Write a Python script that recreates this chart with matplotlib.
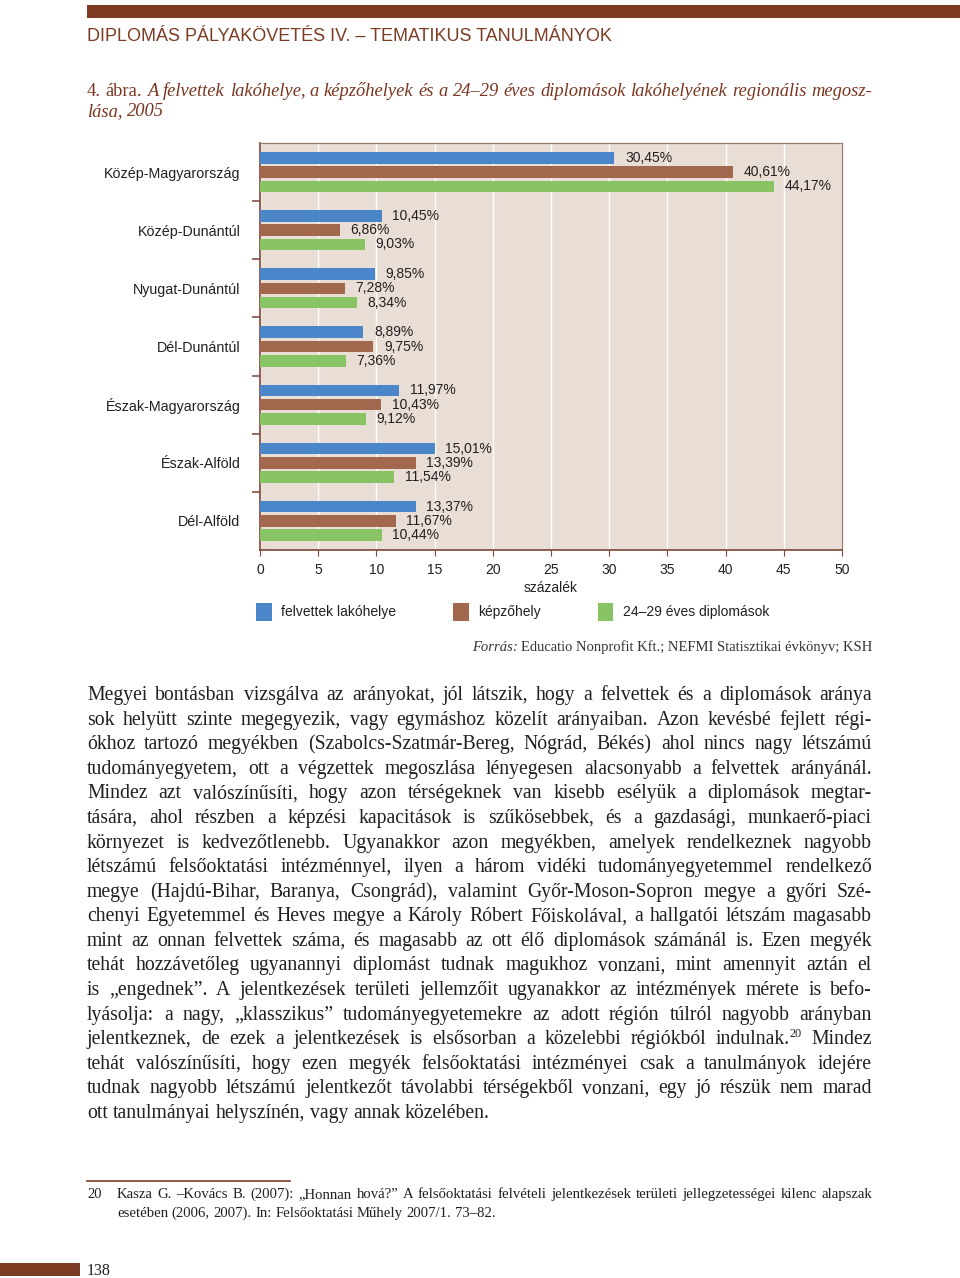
import matplotlib
matplotlib.use('Agg')
import matplotlib.pyplot as plt
from matplotlib.patches import Rectangle
from matplotlib.lines import Line2D

W, H = 960, 1278

regions = ['Közép-Magyarország', 'Közép-Dunántúl', 'Nyugat-Dunántúl', 'Dél-Dunántúl',
           'Észak-Magyarország', 'Észak-Alföld', 'Dél-Alföld']
felvettek = [30.45, 10.45, 9.85, 8.89, 11.97, 15.01, 13.37]
kepzohely = [40.61, 6.86, 7.28, 9.75, 10.43, 13.39, 11.67]
diplomasok = [44.17, 9.03, 8.34, 7.36, 9.12, 11.54, 10.44]
series_names = ['felvettek lakóhelye', 'képzőhely', '24–29 éves diplomások']
x_ticks = [0, 5, 10, 15, 20, 25, 30, 35, 40, 45, 50]

header = 'DIPLOMÁS PÁLYAKÖVETÉS IV. – TEMATIKUS TANULMÁNYOK'
title_lines = ['4. ábra. A felvettek lakóhelye, a képzőhelyek és a 24–29 éves diplomások lakóhelyének regionális megosz-',
               'lása, 2005']
source = 'Educatio Nonprofit Kft.; NEFMI Statisztikai évkönyv; KSH'
body = [
    'Megyei bontásban vizsgálva az arányokat, jól látszik, hogy a felvettek és a diplomások aránya',
    'sok helyütt szinte megegyezik, vagy egymáshoz közelít arányaiban. Azon kevésbé fejlett régi-',
    'ókhoz tartozó megyékben (Szabolcs-Szatmár-Bereg, Nógrád, Békés) ahol nincs nagy létszámú',
    'tudományegyetem, ott a végzettek megoszlása lényegesen alacsonyabb a felvettek arányánál.',
    'Mindez azt valószínűsíti, hogy azon térségeknek van kisebb esélyük a diplomások megtar-',
    'tására, ahol részben a képzési kapacitások is szűkösebbek, és a gazdasági, munkaerő-piaci',
    'környezet is kedvezőtlenebb. Ugyanakkor azon megyékben, amelyek rendelkeznek nagyobb',
    'létszámú felsőoktatási intézménnyel, ilyen a három vidéki tudományegyetemmel rendelkező',
    'megye (Hajdú-Bihar, Baranya, Csongrád), valamint Győr-Moson-Sopron megye a győri Szé-',
    'chenyi Egyetemmel és Heves megye a Károly Róbert Főiskolával, a hallgatói létszám magasabb',
    'mint az onnan felvettek száma, és magasabb az ott élő diplomások számánál is. Ezen megyék',
    'tehát hozzávetőleg ugyanannyi diplomást tudnak magukhoz vonzani, mint amennyit aztán el',
    'is „engednek”. A jelentkezések területi jellemzőit ugyanakkor az intézmények mérete is befo-',
    'lyásolja: a nagy, „klasszikus” tudományegyetemekre az adott régión túlról nagyobb arányban',
    'jelentkeznek, de ezek a jelentkezések is elsősorban a közelebbi régiókból indulnak.^20 Mindez',
    'tehát valószínűsíti, hogy ezen megyék felsőoktatási intézményei csak a tanulmányok idejére',
    'tudnak nagyobb létszámú jelentkezőt távolabbi térségekből vonzani, egy jó részük nem marad',
    'ott tanulmányai helyszínén, vagy annak közelében.',
]
footnote = ['Kasza G. –Kovács B. (2007): „Honnan hová?” A felsőoktatási felvételi jelentkezések területi jellegzetességei kilenc alapszak',
            'esetében (2006, 2007). In: Felsőoktatási Műhely 2007/1. 73–82.']
page_no = '138'

BLUE, BROWN, GREEN = '#4A86C9', '#A1684E', '#88C463'
SPINE = '#7A4535'
DARK = '#231F20'
RED = '#7B3520'
SANS = 'Liberation Sans'
SERIF = 'Liberation Serif'


def fx(x):
    return x / W


def fy(y):
    return 1 - y / H


def put_line(fig, renderer, words, x0, y, size, x1=None, color=DARK, family=SERIF, styles=None):
    '''
    Place a line of words, justified between x0 and x1 if x1 is given.
    '''
    tokens = []
    for i, word in enumerate(words):
        style = styles[i] if styles else 'normal'
        parts = []
        base, _, sup = word.partition('^')
        t = fig.text(0, fy(y), base, fontsize=size, family=family, color=color,
                     style=style, va='baseline')
        parts.append((t, 0))
        if sup:
            s = fig.text(0, fy(y) + 0.38 * size / 72 * 100 / H, sup, fontsize=size * 0.62,
                         family=family, color=color, va='baseline')
            parts.append((s, 0))
        tokens.append(parts)
    widths = []
    for parts in tokens:
        total = 0
        for k, (t, _) in enumerate(parts):
            w = t.get_window_extent(renderer).width
            parts[k] = (t, total)
            total += w
        widths.append(total)
    gap = 0.25 * size * 100 / 72
    if x1 is not None and len(words) > 1:
        gap = (x1 - x0 - sum(widths)) / (len(words) - 1)
    x = x0
    for parts, w in zip(tokens, widths):
        for t, off in parts:
            t.set_x(fx(x + off))
        x += w + gap


fig = plt.figure(figsize=(W / 100, H / 100), dpi=100)
renderer = fig.canvas.get_renderer()

# page decorations
fig.patches.append(Rectangle((fx(87), fy(18)), fx(960) - fx(87), fy(5) - fy(18),
                             transform=fig.transFigure, color='#7E3B24', lw=0))
fig.patches.append(Rectangle((0, fy(1276)), fx(80), fy(1263) - fy(1276),
                             transform=fig.transFigure, color='#7E3B24', lw=0))
fig.lines.append(Line2D([fx(87), fx(290)], [fy(1181), fy(1181)], transform=fig.transFigure,
                        color='#7E3B24', lw=1.2))

fig.text(fx(87), fy(41), header, fontsize=13, family=SANS, color='#7E3B24', va='baseline')

title_words = title_lines[0].split(' ')
title_styles = ['normal', 'normal'] + ['italic'] * (len(title_words) - 2)
put_line(fig, renderer, title_words, 87, 96, 13.3, x1=872, color=RED, styles=title_styles)
put_line(fig, renderer, title_lines[1].split(' '), 87, 116, 13.3, color=RED,
         styles=['italic', 'italic'])

# chart
ax = fig.add_axes([fx(260), fy(550), fx(842) - fx(260), fy(143) - fy(550)])
ax.set_facecolor('#E9DED5')
pos = list(range(len(regions)))
bar_h = 0.2
offsets = [-0.245, 0, 0.245]
for values, off, color, name in zip([felvettek, kepzohely, diplomasok], offsets,
                                    [BLUE, BROWN, GREEN], series_names):
    ys = [p + off for p in pos]
    ax.barh(ys, values, height=bar_h, color=color, label=name, zorder=3)
    for yv, v in zip(ys, values):
        ax.text(v + 0.9, yv, f'{v:.2f}'.replace('.', ',') + '%', fontsize=10,
                family=SANS, color=DARK, va='center', ha='left', zorder=4)

ax.set_xlim(0, 50)
ax.set_ylim(len(regions) - 0.5, -0.5)
ax.set_xticks(x_ticks)
ax.set_xticklabels([str(t) for t in x_ticks], fontsize=10, family=SANS, color=DARK)
ax.set_yticks(pos)
ax.set_yticklabels(regions, fontsize=10.3, family=SANS, color=DARK)
ax.set_yticks([p + 0.5 for p in pos[:-1]], minor=True)
ax.tick_params(axis='y', which='major', length=0, pad=14)
ax.tick_params(axis='y', which='minor', length=5.5, width=1.1, color=SPINE, direction='out')
ax.tick_params(axis='x', length=4, color=SPINE, pad=5)
ax.grid(axis='x', color='white', lw=1, zorder=1)
ax.set_axisbelow(True)
ax.set_xlabel('százalék', fontsize=10, family=SANS, color=DARK, labelpad=3)
for side in ['left', 'bottom']:
    ax.spines[side].set_color(SPINE)
    ax.spines[side].set_linewidth(1.2)
for side in ['top', 'right']:
    ax.spines[side].set_color('#9A7A6E')
    ax.spines[side].set_linewidth(0.9)

fig.legend(loc='upper left', bbox_to_anchor=(fx(256), fy(603)), ncol=3, frameon=False,
           prop={'family': SANS, 'size': 10}, borderpad=0, borderaxespad=0,
           handlelength=1.15, handleheight=1.6, handletextpad=0.65, columnspacing=4.1,
           labelcolor=DARK)

# source line
src = fig.text(fx(872), fy(651), source, fontsize=10.5, family=SERIF, color='#333333',
               ha='right', va='baseline')
sw = src.get_window_extent(renderer).width
fig.text(fx(872 - sw - 3), fy(651), 'Forrás:', fontsize=10.5, family=SERIF, style='italic',
         color='#333333', ha='right', va='baseline')

# body text
for i, line in enumerate(body):
    last = i == len(body) - 1
    put_line(fig, renderer, line.split(' '), 87, 700 + i * 24.59, 14.2,
             x1=None if last else 872, color=DARK)

# footnote
fig.text(fx(87), fy(1198), '20', fontsize=10.5, family=SERIF, color=DARK, va='baseline')
put_line(fig, renderer, footnote[0].split(' '), 117, 1198, 10.6, x1=872, color=DARK)
put_line(fig, renderer, footnote[1].split(' '), 117, 1217, 10.6, color=DARK)

fig.text(fx(87), fy(1275), page_no, fontsize=11.5, family=SERIF, color=DARK, va='baseline')

fig.savefig('out.png', dpi=100)
